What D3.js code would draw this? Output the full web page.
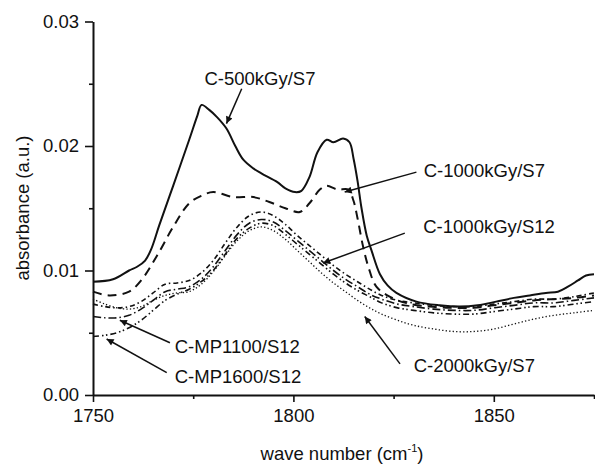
<!DOCTYPE html>
<html><head><meta charset="utf-8">
<script src="https://cdnjs.cloudflare.com/ajax/libs/d3/7.8.5/d3.min.js"></script>
<style>
html,body{margin:0;padding:0;background:#fff;}
svg{display:block;}
text{font-family:"Liberation Sans",Arial,sans-serif;fill:#111;}
</style></head>
<body>
<svg id="chart" width="595" height="467"></svg>
<script>
// ---- data ----
const xTicks = [1750, 1800, 1850];
const xMinorTicks = [1775, 1825, 1875];
const yTicks = [0.00, 0.01, 0.02, 0.03];
const yMinorTicks = [0.005, 0.015, 0.025];

const wn500 = [1750,1755,1759,1761,1763,1764.5,1766.5,1770,1774,1776,1777.1,1779,1781,1783.3,1785.5,1787.5,1790,1792,1796,1798,1800.4,1802,1804,1806,1808.3,1810,1812.4,1814,1815,1816,1817,1818.3,1819.5,1821.6,1823.5,1825.7,1830.7,1836.5,1841.5,1846,1850.6,1855,1859,1863,1866,1868.5,1871,1873,1875];
const abs500 = [0.0091,0.0093,0.0100,0.0103,0.0108,0.0117,0.0136,0.0168,0.0205,0.0224,0.0233,0.0229,0.0223,0.0214,0.0200,0.0189,0.0182,0.0178,0.0171,0.0166,0.0163,0.0164,0.0175,0.0195,0.0205,0.0203,0.0206,0.0203,0.0190,0.0172,0.0150,0.0128,0.0116,0.0097,0.0088,0.0082,0.0075,0.0072,0.0071,0.0072,0.0075,0.0078,0.0080,0.0082,0.0083,0.0087,0.0092,0.0096,0.0097];

const wn1000S7 = [1750,1754,1759,1762,1766,1770,1774,1777,1780,1785,1790,1794,1798,1801.6,1804,1806.6,1808.3,1811,1813.7,1815,1816,1817.4,1818.7,1820.7,1824,1828,1834,1840,1845,1850,1855,1860,1865,1870,1875];
const abs1000S7 = [0.0083,0.0080,0.0083,0.0092,0.0112,0.0135,0.0154,0.0160,0.0163,0.0159,0.0159,0.0155,0.0150,0.0147,0.0154,0.0165,0.0168,0.0165,0.0165,0.0156,0.0142,0.0119,0.0103,0.0087,0.0079,0.0074,0.0071,0.0070,0.0070,0.0072,0.0074,0.0076,0.0077,0.0078,0.0080];

const wnLow = [1750,1753,1756,1759,1762,1765,1768,1771,1774,1777,1780,1783,1786,1789,1792,1795,1798,1801,1804,1807,1810,1813,1816,1819,1822,1826,1830,1835,1840,1845,1850,1855,1860,1865,1870,1875];
const abs1000S12 = [0.0073,0.0071,0.0070,0.0071,0.0075,0.0082,0.0089,0.0090,0.0092,0.0098,0.0108,0.0122,0.0135,0.0144,0.0147,0.0144,0.0137,0.0128,0.0120,0.0112,0.0104,0.0097,0.0091,0.0085,0.0080,0.0076,0.0074,0.0072,0.0071,0.0071,0.0073,0.0075,0.0077,0.0077,0.0079,0.0082];
const absMP1100 = [0.0063,0.0062,0.0062,0.0064,0.0069,0.0076,0.0083,0.0085,0.0087,0.0093,0.0103,0.0116,0.0129,0.0138,0.0141,0.0139,0.0132,0.0124,0.0116,0.0108,0.0100,0.0093,0.0087,0.0081,0.0077,0.0073,0.0071,0.0069,0.0068,0.0068,0.0070,0.0072,0.0074,0.0074,0.0076,0.0078];
const absMP1600 = [0.0047,0.0048,0.0050,0.0054,0.0060,0.0068,0.0076,0.0081,0.0085,0.0091,0.0100,0.0113,0.0126,0.0134,0.0138,0.0136,0.0129,0.0121,0.0113,0.0105,0.0097,0.0090,0.0084,0.0079,0.0074,0.0070,0.0068,0.0066,0.0065,0.0065,0.0067,0.0069,0.0071,0.0071,0.0073,0.0075];
const abs2000S7 = [0.0077,0.0073,0.0070,0.0069,0.0071,0.0076,0.0080,0.0082,0.0083,0.0089,0.0099,0.0112,0.0124,0.0132,0.0135,0.0132,0.0125,0.0116,0.0107,0.0098,0.0090,0.0083,0.0076,0.0070,0.0065,0.0060,0.0056,0.0053,0.0051,0.0051,0.0053,0.0057,0.0061,0.0064,0.0066,0.0068];

const seriesNames = ["C-500kGy/S7","C-1000kGy/S7","C-1000kGy/S12","C-2000kGy/S7","C-MP1100/S12","C-MP1600/S12"];

// annotation anchors in data units
const annoLabels = ["C-500kGy/S7","C-1000kGy/S7","C-1000kGy/S12","C-2000kGy/S7","C-MP1100/S12","C-MP1600/S12"];
const annoTextWn  = [1777.8, 1832.5, 1832.4, 1830.0, 1770.4, 1770.4];
const annoTextAbs = [0.0254, 0.0180, 0.0135, 0.0024, 0.0039, 0.0015];
const annoFromWn  = [1787.1, 1830.7, 1827.8, 1826.6, 1769.2, 1768.4];
const annoFromAbs = [0.0246, 0.0179, 0.0130, 0.0025, 0.0042, 0.0018];
const annoTipWn   = [1783.3, 1812.8, 1807.4, 1817.8, 1756.7, 1753.4];
const annoTipAbs  = [0.0218, 0.0163, 0.0106, 0.0063, 0.0060, 0.0045];

// ---- layout ----
const FS = 18.5;
const svg = d3.select("#chart");
const x = d3.scaleLinear().domain([1750, 1875]).range([93, 594]);
const y = d3.scaleLinear().domain([0, 0.03]).range([395, 21.5]);
const ink = "#111";

svg.append("defs").append("marker")
  .attr("id","arr").attr("viewBox","0 0 10 10").attr("refX",10).attr("refY",5)
  .attr("markerWidth",12).attr("markerHeight",7).attr("markerUnits","userSpaceOnUse")
  .attr("orient","auto")
  .append("path").attr("d","M0,0 L10,5 L0,10 Z").attr("fill",ink);

// axes
const fmt = d3.format(".2f");
const yAx = svg.append("g").attr("transform","translate(93,0)")
  .call(d3.axisLeft(y).tickValues(yTicks).tickFormat(fmt).tickSize(8).tickPadding(6).tickSizeOuter(0));
const yMin = svg.append("g").attr("transform","translate(93,0)")
  .call(d3.axisLeft(y).tickValues(yMinorTicks).tickFormat("").tickSize(4).tickSizeOuter(0));
const xAx = svg.append("g").attr("transform","translate(0,395)")
  .call(d3.axisBottom(x).tickValues(xTicks).tickFormat(d3.format("d")).tickSize(7).tickPadding(7).tickSizeOuter(0));
const xMin = svg.append("g").attr("transform","translate(0,395)")
  .call(d3.axisBottom(x).tickValues(xMinorTicks).tickFormat("").tickSize(4).tickSizeOuter(0));
[yAx,yMin,xAx,xMin].forEach(g=>{
  g.selectAll("path").attr("stroke",ink).attr("stroke-width",2);
  g.selectAll("line").attr("stroke",ink).attr("stroke-width",1.6);
  g.selectAll("text").attr("font-size",FS).attr("fill",ink)
    .style("font-family","'Liberation Sans',Arial,sans-serif");
});
yMin.select("path").remove(); xMin.select("path").remove();

// axis titles
const xt = svg.append("text").attr("x",342).attr("y",460).attr("text-anchor","middle").attr("font-size",FS);
xt.append("tspan").text("wave number (cm");
xt.append("tspan").attr("dy",-8).attr("font-size",11).text("-1");
xt.append("tspan").attr("dy",8).attr("font-size",FS).text(")");
svg.append("text").attr("transform","translate(29,208) rotate(-90)").attr("text-anchor","middle")
  .attr("font-size",FS).text("absorbance (a.u.)");

// curves
const line = d3.line().x(d=>x(d[0])).y(d=>y(d[1])).curve(d3.curveCatmullRom.alpha(0.5));
const zip = (a,b)=>a.map((v,i)=>[v,b[i]]);
const curves = [
  {name:seriesNames[0], d:zip(wn500,abs500), w:2, dash:null},
  {name:seriesNames[1], d:zip(wn1000S7,abs1000S7), w:2, dash:"9,6"},
  {name:seriesNames[2], d:zip(wnLow,abs1000S12), w:1.6, dash:"5,3,1.5,3"},
  {name:seriesNames[3], d:zip(wnLow,abs2000S7), w:1.3, dash:"1.3,2.2"},
  {name:seriesNames[4], d:zip(wnLow,absMP1100), w:1.6, dash:"8,3,1.5,3"},
  {name:seriesNames[5], d:zip(wnLow,absMP1600), w:1.6, dash:"6,3,1.5,2.5,1.5,3"}
];
svg.append("g").selectAll("path").data(curves).join("path")
  .attr("d",c=>line(c.d)).attr("fill","none").attr("stroke",ink)
  .attr("stroke-width",c=>c.w).attr("stroke-dasharray",c=>c.dash)
  .attr("stroke-linejoin","round");

// annotations
const ann = svg.append("g");
annoLabels.forEach((t,i)=>{
  ann.append("line")
    .attr("x1",x(annoFromWn[i])).attr("y1",y(annoFromAbs[i]))
    .attr("x2",x(annoTipWn[i])).attr("y2",y(annoTipAbs[i]))
    .attr("stroke",ink).attr("stroke-width",1.5).attr("marker-end","url(#arr)");
  ann.append("text").attr("x",x(annoTextWn[i])).attr("y",y(annoTextAbs[i]))
    .attr("dy","0.35em").attr("font-size",FS).text(t);
});
</script>
</body></html>
